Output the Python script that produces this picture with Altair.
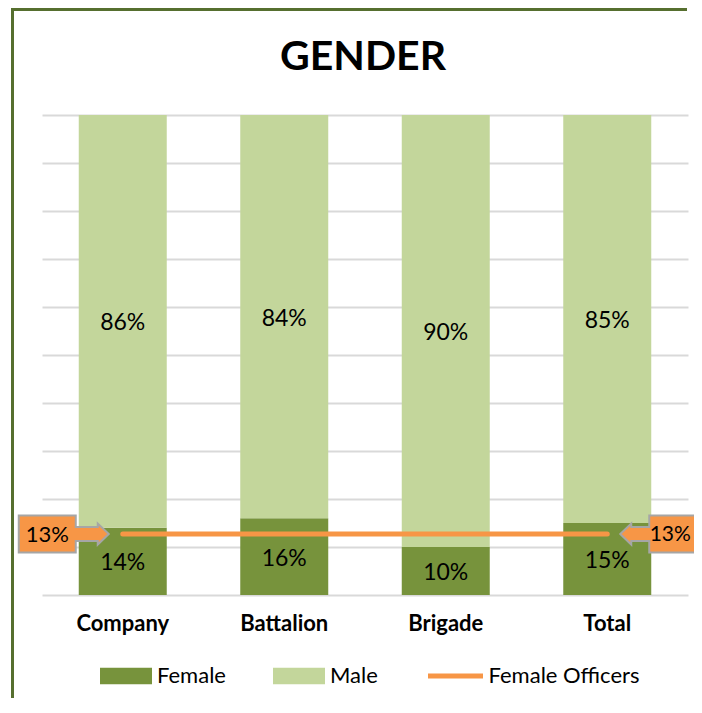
import altair as alt
import pandas as pd

# ---------------- data ----------------
units = ["Company", "Battalion", "Brigade", "Total"]
female = [0.14, 0.16, 0.10, 0.15]
male = [0.86, 0.84, 0.90, 0.85]
female_officers = [0.127, 0.127, 0.127, 0.127]
series = ["Female", "Male"]
line_series = "Female Officers"
title_text = ["GENDER"]

# ---------------- styles ----------------
FONT = "Lato"
C_FEMALE = "#77933C"
C_MALE = "#C3D69B"
C_ORANGE = "#F79646"
C_GRID = "#D9D9D9"
C_BORDER = "#566F2F"
C_CALLOUT_STROKE = "#A6A6A6"

rows = []
for i, u in enumerate(units):
    rows.append({"unit": u, "series": series[0], "value": female[i], "order": 0})
    rows.append({"unit": u, "series": series[1], "value": male[i], "order": 1})
bars_df = pd.DataFrame(rows)
line_df = pd.DataFrame({"unit": units, "officers": female_officers,
                        "series": [line_series] * len(units)})
title_df = pd.DataFrame({"t": title_text})
frame_df = pd.DataFrame({"b": [0]})

# callout shapes (custom symbol paths, pixel units when size=4)
LEFT_CALLOUT = ("M-104,-18.5 H-47 V-7 H-25 V-10.5 L-14,0 L-25,10.5 V7 H-47 "
                "V18.5 H-104 Z")
RIGHT_CALLOUT = ("M110,-18.5 H42 V-7 H24 V-10.5 L13,0 L24,10.5 V7 H42 "
                 "V18.5 H110 Z")
SWATCH = "M-1,-0.32 H1 V0.32 H-1 Z"

x_scale = alt.Scale(paddingInner=0, paddingOuter=0)
x_axis = alt.Axis(title=None, domain=False, ticks=False, tickSize=0,
                  labelFont=FONT, labelFontWeight="bold", labelFontSize=22,
                  labelColor="#000000", labelPadding=18.5, labelAngle=0)
y_scale = alt.Scale(domain=[0, 1], nice=False, zero=True)
y_axis = alt.Axis(title=None, labels=False, domain=False, ticks=False,
                  grid=True, gridColor=C_GRID, gridWidth=2, tickCount=10)


def xenc():
    return alt.X("unit:N", sort=units, scale=x_scale, axis=x_axis)


stacked = (
    alt.Chart(bars_df)
    .transform_stack(stack="value", as_=["v0", "v1"], groupby=["unit"],
                     sort=[alt.SortField("order", order="ascending")])
    .transform_calculate(mid="(datum.v0 + datum.v1) / 2")
)

bars = stacked.mark_bar(size=88, opacity=1).encode(
    x=xenc(),
    y=alt.Y("v0:Q", scale=y_scale, axis=y_axis),
    y2="v1:Q",
    color=alt.Color(
        "series:N",
        scale=alt.Scale(domain=series, range=[C_FEMALE, C_MALE]),
        legend=alt.Legend(
            title=None, orient="none", legendX=58, legendY=535,
            direction="horizontal", symbolType=SWATCH, symbolSize=2704,
            symbolStrokeWidth=0, labelFont=FONT, labelFontSize=22,
            labelColor="#000000", labelOffset=5, columnPadding=47, padding=0,
        ),
    ),
)

bar_labels = stacked.mark_text(font=FONT, fontSize=23, color="#000000",
                               baseline="middle", align="center", dy=2).encode(
    x=xenc(),
    y=alt.Y("mid:Q", scale=y_scale),
    text=alt.Text("value:Q", format=".0%"),
)

line = alt.Chart(line_df).mark_line(strokeWidth=5, strokeCap="round",
                                    opacity=1).encode(
    x=xenc(),
    y=alt.Y("officers:Q", scale=y_scale),
    color=alt.Color(
        "series:N",
        scale=alt.Scale(domain=[line_series], range=[C_ORANGE]),
        legend=alt.Legend(
            title=None, orient="none", legendX=383.5, legendY=531,
            direction="horizontal", symbolType="stroke", symbolSize=3025,
            symbolStrokeWidth=5, labelFont=FONT, labelFontSize=22,
            labelColor="#000000", labelOffset=3, padding=0,
        ),
    ),
)

left_pt = (
    alt.Chart(line_df)
    .transform_filter(alt.datum.unit == units[0])
)
right_pt = (
    alt.Chart(line_df)
    .transform_filter(alt.datum.unit == units[-1])
)

left_shape = left_pt.mark_point(shape=LEFT_CALLOUT, size=4, filled=True,
                                fill=C_ORANGE, stroke=C_CALLOUT_STROKE,
                                strokeWidth=2, opacity=1).encode(
    x=xenc(), y=alt.Y("officers:Q", scale=y_scale))
right_shape = right_pt.mark_point(shape=RIGHT_CALLOUT, size=4, filled=True,
                                  fill=C_ORANGE, stroke=C_CALLOUT_STROKE,
                                  strokeWidth=2, opacity=1).encode(
    x=xenc(), y=alt.Y("officers:Q", scale=y_scale))

left_text = left_pt.mark_text(font=FONT, fontSize=22, color="#000000",
                              align="center", baseline="middle",
                              dx=-75.5, dy=1).encode(
    x=xenc(), y=alt.Y("officers:Q", scale=y_scale),
    text=alt.Text("officers:Q", format=".0%"))
right_text = right_pt.mark_text(font=FONT, fontSize=21, color="#000000",
                                align="center", baseline="middle",
                                dx=63, dy=1).encode(
    x=xenc(), y=alt.Y("officers:Q", scale=y_scale),
    text=alt.Text("officers:Q", format=".0%"))

title = alt.Chart(title_df).mark_text(font=FONT, fontSize=41,
                                      fontWeight="bold", color="#000000",
                                      align="center",
                                      baseline="alphabetic").encode(
    text="t:N", x=alt.value(321), y=alt.value(-45))

# outer chart frame (left and top edges; the others fall outside the picture)
frame_left = alt.Chart(frame_df).mark_rule(color=C_BORDER,
                                           strokeWidth=3).encode(
    x=alt.value(-29.5), y=alt.value(-107), y2=alt.value(590))
frame_top = alt.Chart(frame_df).mark_rule(color=C_BORDER,
                                          strokeWidth=3).encode(
    x=alt.value(-31), x2=alt.value(645), y=alt.value(-105.5))

chart = (
    alt.layer(frame_left, frame_top, bars, bar_labels, line, left_shape,
              right_shape, left_text, right_text, title)
    .resolve_scale(color="independent")
    .properties(
        width=646, height=480,
        autosize=alt.AutoSizeParams(type="none"),
        padding={"left": 34, "top": 107, "right": 6, "bottom": 103},
        background="white",
    )
    .configure_view(strokeWidth=0)
)

chart.save("out.html", embed_options={"renderer": "svg", "actions": False})
